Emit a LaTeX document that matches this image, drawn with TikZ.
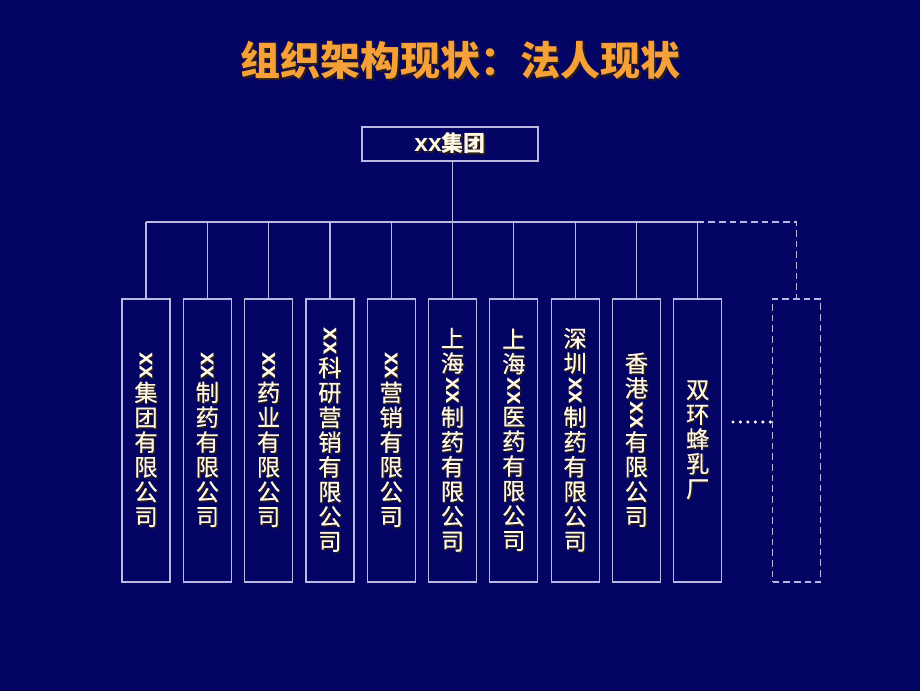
\documentclass[tikz,border=0pt]{standalone}
\usepackage{fontspec}
\usepackage{graphicx}
\newfontfamily\cjk{Noto Sans CJK SC}
\newfontfamily\cjkf[FakeBold=0.5]{Noto Sans CJK SC}
\newfontfamily\lat{Liberation Sans}
\definecolor{bgc}{RGB}{4,4,100}
\definecolor{linec}{RGB}{185,185,225}
\definecolor{txtc}{RGB}{255,248,228}
\definecolor{titc}{RGB}{246,160,58}
\definecolor{shad}{RGB}{45,30,20}
\newcommand\sh[2][1.1pt]{\makebox[0pt][l]{\kern#1\raisebox{-#1}{\color{shad}#2}}#2}
\newcommand\X{\rotatebox[origin=c]{-90}{\lat\bfseries\fontsize{18}{18}\selectfont xx}}
\ExplSyntaxOn
\NewDocumentCommand\vtext{m}{\vbox{\baselineskip=18.6pt\lineskip=0.8pt\lineskiplimit=0pt\relax
  \tl_map_inline:nn {#1}{\hbox~to~1.6em{\hss\sh{##1}\hss}}}}
\ExplSyntaxOff
\begin{document}
\begin{tikzpicture}[x=0.75pt,y=-0.75pt,
  conn/.style={draw=linec,line width=0.9pt},
  dconn/.style={draw=linec,line width=0.9pt,dash pattern=on 5pt off 3pt},
  topbox/.style={draw=linec,line width=0.9pt,minimum width=132pt,minimum height=25.5pt,inner sep=0pt,
    text=txtc,font=\cjk\bfseries\fontsize{16.5}{16.5}\selectfont},
  cobox/.style={draw=linec,line width=0.9pt,minimum width=36pt,minimum height=212.25pt,inner sep=0pt,
    text=txtc,font=\cjkf\fontsize{17.5}{18.6}\selectfont},
  emptybox/.style={cobox,dash pattern=on 5pt off 3pt},
  dots/.style={draw=txtc,line width=2.6pt,line cap=round,dash pattern=on 0pt off 5.6pt}]
\useasboundingbox (0,0) rectangle (920,691);
\fill[bgc] (0,0) rectangle (920,691);
\node[font=\cjk\bfseries\fontsize{30}{30}\selectfont,text=titc,inner sep=0pt] (title) at (460,61) {\sh[1.6pt]{组织架构现状：法人现状}};
\node[topbox] (top) at (450,144) {\sh{{\lat\bfseries\fontsize{18.5}{18.5}\selectfont xx}集团}};
\coordinate (bus) at (0,222);
\node[cobox] (b1) at (146,440.5) {\vtext{{\X}集团有限公司}};
\node[cobox] (b2) at (207.3,440.5) {\vtext{{\X}制药有限公司}};
\node[cobox] (b3) at (268.6,440.5) {\vtext{{\X}药业有限公司}};
\node[cobox] (b4) at (329.9,440.5) {\vtext{{\X}科研营销有限公司}};
\node[cobox] (b5) at (391.2,440.5) {\vtext{{\X}营销有限公司}};
\node[cobox] (b6) at (452.5,440.5) {\vtext{上海{\X}制药有限公司}};
\node[cobox] (b7) at (513.8,440.5) {\vtext{上海{\X}医药有限公司}};
\node[cobox] (b8) at (575.1,440.5) {\vtext{深圳{\X}制药有限公司}};
\node[cobox] (b9) at (636.4,440.5) {\vtext{香港{\X}有限公司}};
\node[cobox] (b10) at (697.7,440.5) {\vtext{双环蜂乳厂}};
\node[emptybox] (b11) at (796.5,440.5) {};
\draw[conn] (top.south -| b6.north) -- (b6.north);
\draw[conn] (b1.north |- bus) -- (b10.north |- bus);
\foreach \i in {1,...,5,7,8,9,10} {\draw[conn] (b\i.north) -- (b\i.north |- bus);}
\draw[dconn] (b10.north |- bus) -- (b11.north |- bus) -- (b11.north);
\coordinate (d1) at (733,422);
\coordinate (d2) at (771,422);
\draw[dots] (d1) -- (d2);
\end{tikzpicture}
\end{document}
